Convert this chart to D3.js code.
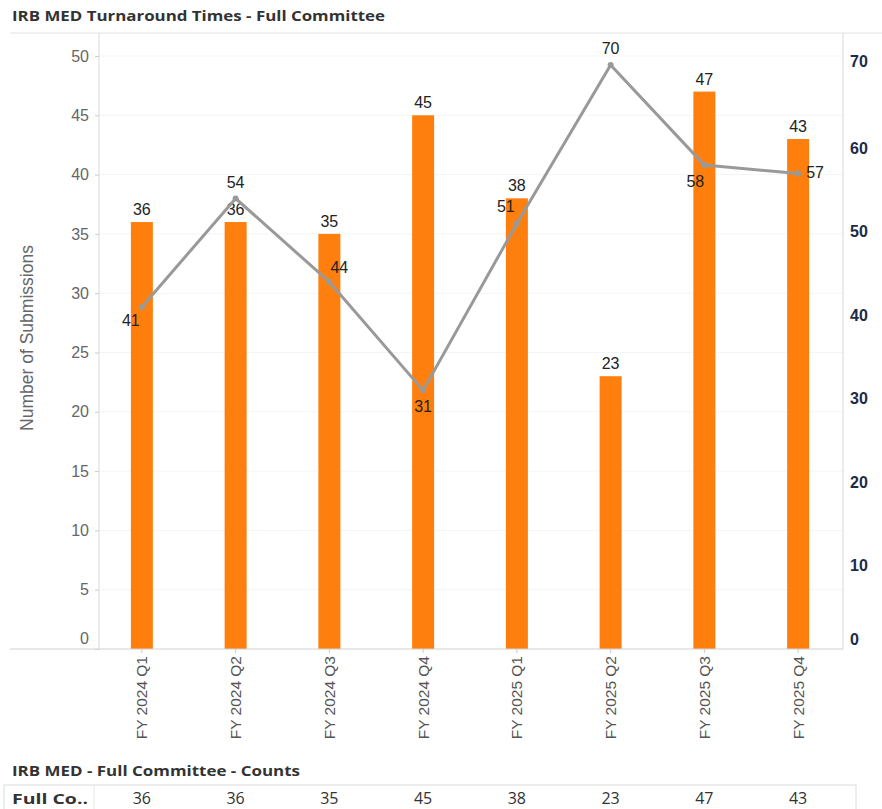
<!DOCTYPE html>
<html><head><meta charset="utf-8">
<script src="https://cdn.jsdelivr.net/npm/d3@7"></script>
<style>body{margin:0;background:#fff}svg{display:block}</style>
</head><body>
<svg id="c" width="882" height="809"></svg>
<script>
const categories = ["FY 2024 Q1","FY 2024 Q2","FY 2024 Q3","FY 2024 Q4","FY 2025 Q1","FY 2025 Q2","FY 2025 Q3","FY 2025 Q4"];
const submissions = [36,36,35,45,38,23,47,43];
const turnaround = [41,54,44,31,51,70,58,57];
const leftTicks = [0,5,10,15,20,25,30,35,40,45,50];
const rightTicks = [0,10,20,30,40,50,60,70];
// label offsets for line labels [dx, dy]
const lineLabelPos = [[-11,13],[0,-16],[10,-15],[0,16],[-11,-17],[0,-17],[-9,16],[17,-1]];

const svg = d3.select("#c");
const L = 99, R = 843, T = 33, B = 649;
const x = d3.scaleBand().domain(categories).range([95, 845]);
const yL = d3.scaleLinear().domain([0,50]).range([B, 56]);
const yR = d3.scaleLinear().domain([0,70]).range([B, 65]);
const cx = d => x(d) + x.bandwidth()/2;

// title
svg.append("text").attr("x",12).attr("y",21).text("IRB MED Turnaround Times - Full Committee")
  .attr("font-family","Open Sans").attr("font-weight","bold").attr("font-size",15).attr("fill","#333")
  .attr("textLength",373).attr("lengthAdjust","spacingAndGlyphs");

// gridlines
svg.append("g").selectAll("line").data(leftTicks.filter(d=>d>0)).join("line")
  .attr("x1",L).attr("x2",R).attr("y1",d=>yL(d)).attr("y2",d=>yL(d))
  .attr("stroke","#f4f4f4").attr("stroke-width",1);

// frame lines
svg.append("line").attr("x1",10).attr("x2",882).attr("y1",T).attr("y2",T).attr("stroke","#e2e2e2");
svg.append("line").attr("x1",L).attr("x2",L).attr("y1",T).attr("y2",B).attr("stroke","#d9d9d9");
svg.append("line").attr("x1",R).attr("x2",R).attr("y1",T).attr("y2",B).attr("stroke","#d9d9d9");

// left axis
const gL = svg.append("g").attr("transform",`translate(${L},0)`)
  .call(d3.axisLeft(yL).tickValues(leftTicks).tickSize(4).tickPadding(6));
gL.select(".domain").remove();
gL.selectAll(".tick line").attr("stroke","#ccc");
gL.selectAll(".tick text").attr("font-family","Liberation Sans, Arial").attr("font-size",16).attr("fill","#666")
  .attr("dy", d => d===0 ? "-0.35em" : "0.32em");

// right axis
const gR = svg.append("g").attr("transform",`translate(${R},0)`)
  .call(d3.axisRight(yR).tickValues(rightTicks).tickSize(0).tickPadding(7));
gR.select(".domain").remove();
gR.selectAll(".tick text").attr("font-family","Liberation Sans, Arial").attr("font-weight","bold")
  .attr("font-size",16).attr("fill","#1c2a48")
  .attr("dy", d => d===0 ? "-0.3em" : (d===70 ? "0.1em" : "0.32em"));

// y title
svg.append("text").attr("transform","translate(33,338) rotate(-90)").attr("text-anchor","middle")
  .text("Number of Submissions").attr("font-family","Liberation Sans, Arial").attr("font-size",17.5).attr("fill","#666");

// bars
const bw = 22;
svg.append("g").selectAll("rect").data(categories).join("rect")
  .attr("x",(d)=>cx(d)-bw/2).attr("width",bw)
  .attr("y",(d,i)=>yL(submissions[i])).attr("height",(d,i)=>B-yL(submissions[i]))
  .attr("fill","#ff7f0e");

// bottom axis
svg.append("line").attr("x1",10).attr("x2",R).attr("y1",B).attr("y2",B).attr("stroke","#d0d0d0");
const gX = svg.append("g").attr("transform",`translate(0,${B})`)
  .call(d3.axisBottom(x).tickSize(4).tickPadding(6));
gX.select(".domain").remove();
gX.selectAll(".tick line").attr("stroke","#ccc");
gX.selectAll(".tick text").attr("font-family","Liberation Sans, Arial").attr("font-size",15.5).attr("fill","#555")
  .attr("transform","rotate(-90)").attr("text-anchor","end").attr("x",-7).attr("y",0).attr("dy","0.35em");

// bar labels
svg.append("g").selectAll("text").data(categories).join("text")
  .attr("x",d=>cx(d)).attr("y",(d,i)=>yL(submissions[i])-7).attr("text-anchor","middle")
  .text((d,i)=>submissions[i]).attr("font-family","Liberation Sans, Arial").attr("font-size",16).attr("fill","#222");

// line
const line = d3.line().x((d,i)=>cx(categories[i])).y(d=>yR(d));
svg.append("path").datum(turnaround).attr("d",line).attr("fill","none")
  .attr("stroke","#999").attr("stroke-width",3).attr("stroke-linejoin","round");
svg.append("g").selectAll("circle").data(turnaround).join("circle")
  .attr("cx",(d,i)=>cx(categories[i])).attr("cy",d=>yR(d)).attr("r",3).attr("fill","#999");

// line labels
svg.append("g").selectAll("text").data(turnaround).join("text")
  .attr("x",(d,i)=>cx(categories[i])+lineLabelPos[i][0]).attr("y",(d,i)=>yR(d)+lineLabelPos[i][1])
  .attr("dy","0.35em").attr("text-anchor","middle").text(d=>d)
  .attr("font-family","Liberation Sans, Arial").attr("font-size",16).attr("fill","#222");

// table
svg.append("text").attr("x",12).attr("y",776).text("IRB MED - Full Committee - Counts")
  .attr("font-family","Open Sans").attr("font-weight","bold").attr("font-size",15).attr("fill","#333")
  .attr("textLength",288).attr("lengthAdjust","spacingAndGlyphs");
svg.append("rect").attr("x",4).attr("y",785).attr("width",852).attr("height",30)
  .attr("fill","#fff").attr("stroke","#dcdcdc");
svg.append("line").attr("x1",94).attr("x2",94).attr("y1",785).attr("y2",809).attr("stroke","#e6e6e6");
svg.append("text").attr("x",12).attr("y",804).text("Full Co..")
  .attr("font-family","Open Sans").attr("font-weight","bold").attr("font-size",15).attr("fill","#333")
  .attr("textLength",76).attr("lengthAdjust","spacingAndGlyphs");
svg.append("g").selectAll("text").data(categories).join("text")
  .attr("x",d=>cx(d)).attr("y",804).attr("text-anchor","middle").text((d,i)=>submissions[i])
  .attr("font-family","Open Sans").attr("font-size",16).attr("fill","#333");
</script>
</body></html>
